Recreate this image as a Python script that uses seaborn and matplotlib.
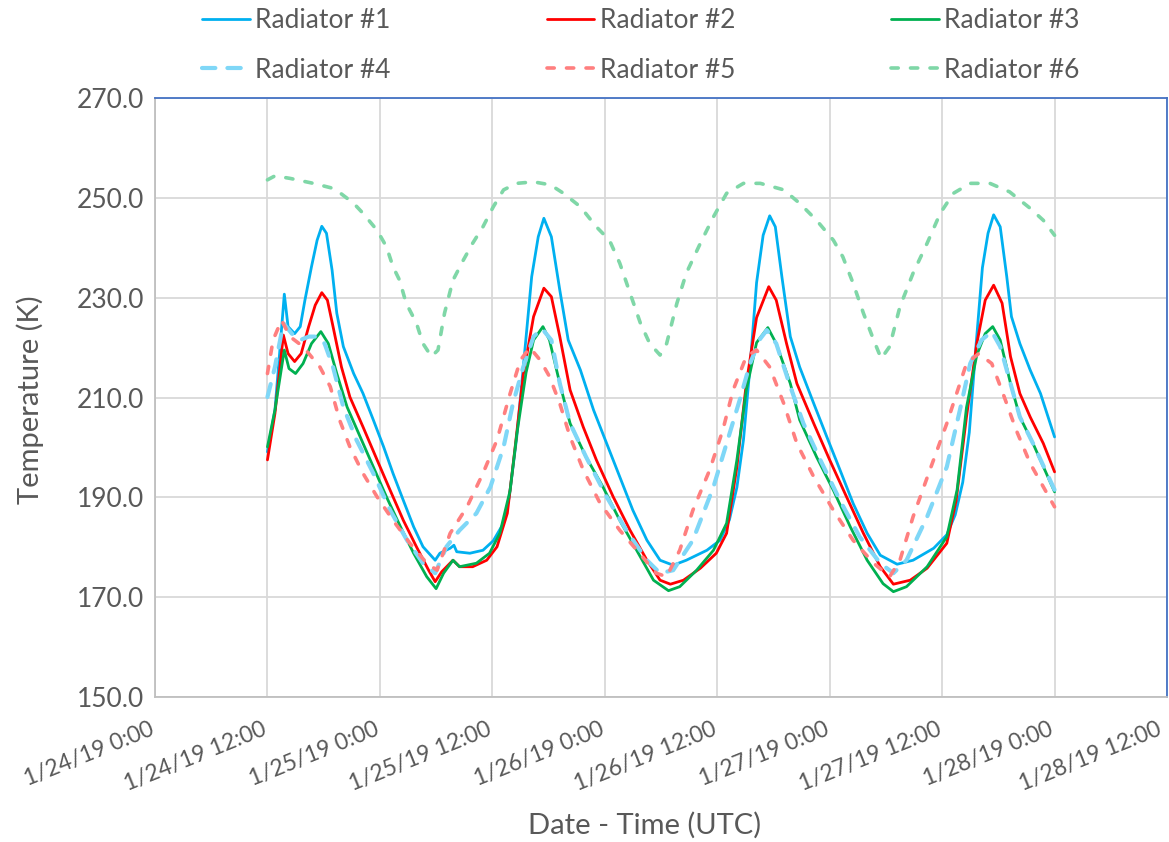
import matplotlib
matplotlib.use("Agg")
import matplotlib.pyplot as plt
import matplotlib.transforms as mtransforms
import matplotlib.dates as mdates
import seaborn as sns
import pandas as pd
import numpy as np

# ---------------- data (hours after 1/24/19 0:00, temperature K) ----------------
r1_hours = [12.0, 12.8, 13.3, 13.8, 14.2, 14.9, 15.5, 16.0, 16.7, 17.3, 17.8, 18.3, 18.9, 19.4,
            20.1, 21.2, 22.2, 23.3, 24.4, 25.4, 26.5, 27.6, 28.6, 29.9, 30.4, 31.5, 31.9, 32.2,
            33.6, 35.0, 36.1, 37.1, 37.8, 38.6, 39.3, 40.2, 40.9, 41.5, 42.3, 43.2, 44.1, 45.4,
            46.8, 48.2, 49.6, 51.0, 52.5, 53.9, 55.3, 56.7, 58.9, 60.3, 61.3, 62.1, 62.8, 63.5,
            64.2, 64.9, 65.6, 66.2, 66.9, 67.8, 68.8, 70.3, 71.7, 73.1, 74.5, 76.0, 77.4, 79.2,
            80.9, 83.1, 84.5, 85.4, 86.2, 86.9, 87.6, 88.3, 88.9, 89.5, 90.2, 90.9, 91.4, 92.3,
            93.4, 94.5, 96.0]
r1_temp = [199.1, 207.5, 218.9, 230.7, 224.2, 222.8, 224.2, 229.5, 236.2, 241.5, 244.3, 242.9, 235.5, 226.9,
           220.2, 214.8, 210.8, 205.5, 200.1, 194.8, 189.4, 184.1, 180.1, 177.4, 178.8, 179.8, 180.4, 179.1,
           178.8, 179.4, 181.3, 184.5, 190.0, 202.0, 216.0, 234.2, 242.2, 245.9, 242.2, 231.5, 221.5, 215.5,
           207.5, 200.8, 194.1, 187.4, 181.4, 177.4, 176.4, 177.4, 179.4, 181.4, 185.5, 192.0, 201.5, 216.1,
           233.0, 242.5, 246.4, 244.2, 234.2, 222.2, 216.1, 208.8, 202.1, 195.5, 188.8, 182.8, 178.4, 176.6,
           177.4, 179.8, 182.5, 186.5, 193.0, 203.0, 220.0, 236.0, 242.9, 246.6, 244.2, 234.2, 226.2, 220.8,
           215.5, 210.8, 202.1]

r2_hours = [12.0, 12.8, 13.7, 14.2, 14.9, 15.6, 16.4, 17.1, 17.8, 18.4, 19.0, 19.9, 20.8, 22.2,
            23.7, 25.1, 26.5, 27.9, 29.2, 29.9, 30.6, 31.8, 32.5, 33.9, 35.4, 36.5, 37.6, 38.4,
            39.3, 40.4, 41.5, 42.3, 43.2, 44.3, 45.7, 47.1, 48.9, 50.7, 52.5, 53.9, 55.0, 56.4,
            58.2, 59.9, 61.0, 62.1, 63.1, 64.2, 65.5, 66.3, 67.4, 68.5, 70.3, 72.0, 73.8, 75.6,
            77.4, 78.8, 80.6, 82.4, 84.5, 85.5, 86.6, 87.7, 88.6, 89.5, 90.4, 91.3, 92.3, 93.4,
            94.8, 96.0]
r2_temp = [197.5, 206.8, 222.5, 218.8, 217.2, 218.8, 224.2, 228.5, 231.0, 229.5, 224.2, 216.1, 210.1, 204.1,
           197.5, 191.4, 185.4, 180.1, 175.4, 173.1, 175.1, 177.4, 176.1, 176.1, 177.4, 180.1, 186.8, 199.5,
           214.5, 226.2, 231.9, 230.2, 222.2, 211.5, 204.1, 197.5, 190.1, 183.4, 177.4, 173.4, 172.6, 173.4,
           175.8, 178.8, 182.8, 196.1, 212.8, 226.0, 232.2, 229.5, 220.8, 212.8, 204.8, 197.5, 190.1, 182.8,
           176.1, 172.6, 173.4, 175.8, 180.8, 189.4, 206.1, 220.8, 229.5, 232.5, 228.9, 218.2, 210.8, 206.1,
           200.8, 195.1]

r3_hours = [12.0, 12.8, 13.8, 14.3, 15.0, 15.8, 16.7, 17.7, 18.5, 19.4, 20.5, 21.9, 23.3, 24.7,
            26.2, 27.6, 29.0, 30.0, 30.8, 31.8, 32.5, 34.3, 35.7, 36.8, 37.9, 38.6, 39.6, 40.4,
            41.4, 42.1, 43.2, 44.3, 46.0, 47.8, 49.6, 51.4, 53.2, 54.8, 56.0, 57.8, 59.6, 61.0,
            62.1, 63.1, 64.2, 65.4, 66.3, 67.8, 68.8, 70.6, 72.4, 74.2, 76.0, 77.7, 78.8, 80.2,
            82.4, 84.5, 85.6, 86.6, 87.7, 88.6, 89.4, 90.2, 91.3, 92.3, 93.7, 96.0]
r3_temp = [200.1, 207.5, 219.5, 215.8, 214.8, 216.8, 220.8, 223.2, 220.8, 214.8, 208.1, 202.1, 196.1, 190.1,
           184.1, 178.8, 174.1, 171.7, 174.8, 177.4, 176.1, 176.8, 178.8, 182.8, 191.4, 202.5, 215.0, 221.5,
           224.2, 221.5, 212.8, 204.8, 198.1, 192.1, 185.4, 179.4, 173.4, 171.3, 172.1, 175.4, 179.4, 184.8,
           197.5, 211.5, 221.0, 224.0, 220.8, 212.8, 205.5, 198.1, 191.4, 184.1, 177.4, 172.7, 171.1, 172.1,
           176.1, 182.1, 191.5, 208.0, 218.5, 222.8, 224.2, 221.5, 212.8, 206.1, 200.8, 191.1]

r4_hours = [12.0, 12.8, 13.7, 14.6, 15.5, 16.4, 17.3, 18.1, 19.0, 20.1, 21.5, 23.3, 25.1, 26.9,
            28.6, 29.9, 31.1, 32.5, 34.3, 35.8, 37.2, 38.2, 39.3, 40.4, 41.3, 42.3, 43.2, 44.3,
            46.0, 48.2, 50.3, 52.5, 53.9, 55.3, 57.4, 59.6, 61.0, 62.4, 63.5, 64.6, 65.3, 66.3,
            67.8, 69.2, 71.0, 73.1, 75.2, 77.4, 78.8, 80.2, 82.4, 84.5, 85.9, 87.0, 88.2, 89.3,
            90.2, 91.3, 92.3, 93.7, 96.0]
r4_temp = [210.1, 216.1, 224.9, 222.8, 221.5, 222.2, 222.2, 220.8, 216.1, 208.1, 201.5, 194.8, 187.4, 181.4,
           176.8, 174.8, 180.1, 183.4, 186.8, 192.1, 200.1, 208.8, 216.1, 222.2, 223.8, 221.5, 212.8, 204.8,
           198.1, 190.1, 183.4, 177.4, 174.8, 175.4, 181.4, 192.1, 200.8, 209.5, 216.8, 221.8, 223.5, 220.8,
           212.2, 204.8, 197.5, 189.4, 182.1, 176.8, 174.8, 177.4, 186.1, 196.1, 207.5, 216.8, 221.5, 223.2,
           220.2, 212.8, 206.1, 200.8, 191.5]

r5_hours = [12.0, 12.6, 13.5, 14.4, 15.8, 17.6, 18.7, 19.7, 20.8, 22.2, 23.7, 25.4, 27.2, 29.0,
            30.1, 31.5, 33.3, 35.0, 36.5, 37.9, 39.0, 40.0, 41.1, 42.1, 43.2, 44.3, 45.7, 47.5,
            49.6, 51.7, 53.5, 54.6, 56.0, 57.4, 59.2, 60.6, 61.7, 63.1, 64.2, 65.6, 67.1, 68.5,
            70.3, 72.4, 74.5, 76.7, 78.4, 79.5, 80.9, 82.7, 84.5, 85.9, 86.6, 87.9, 89.3, 90.5,
            91.9, 93.4, 94.8, 96.0]
r5_temp = [214.8, 221.5, 225.5, 222.2, 220.2, 216.1, 212.2, 205.5, 200.1, 194.8, 190.1, 185.4, 180.8, 176.8,
           175.4, 182.8, 188.1, 194.8, 201.5, 210.8, 217.5, 220.0, 217.5, 214.2, 208.8, 202.1, 195.5, 188.8,
           183.4, 178.8, 174.8, 174.1, 179.4, 187.4, 195.5, 203.5, 211.5, 218.2, 219.5, 216.1, 208.8, 200.8,
           194.1, 187.4, 181.4, 176.8, 174.1, 177.4, 186.1, 195.5, 204.8, 212.8, 216.8, 218.8, 216.8, 210.8,
           203.5, 196.8, 192.1, 188.1]

r6_hours = [12.0, 12.8, 14.4, 16.9, 19.0, 19.6, 21.2, 22.2, 23.7, 24.7, 25.4, 26.1, 26.8, 27.9,
            28.6, 29.5, 30.2, 30.9, 31.8, 32.9, 33.9, 35.0, 36.1, 37.2, 38.6, 40.4, 42.2, 43.6,
            45.4, 47.1, 48.5, 49.6, 50.7, 51.8, 52.8, 53.9, 54.6, 55.7, 56.7, 58.2, 59.6, 61.0,
            62.8, 64.6, 67.1, 68.8, 70.6, 72.4, 73.4, 74.5, 75.6, 76.7, 77.5, 78.4, 79.5, 80.9,
            82.4, 83.8, 85.2, 87.0, 89.1, 91.2, 93.4, 94.8, 96.0]
r6_temp = [253.6, 254.4, 253.9, 252.9, 251.9, 251.2, 248.9, 246.9, 243.5, 240.2, 236.2, 233.5, 228.9, 224.9,
           220.8, 218.2, 219.5, 226.9, 233.5, 237.5, 240.9, 244.2, 248.2, 251.6, 252.9, 253.2, 252.6, 250.9,
           248.2, 244.2, 241.5, 236.9, 230.9, 224.9, 220.8, 218.5, 220.8, 228.9, 234.9, 240.9, 246.2, 250.9,
           252.9, 252.9, 251.6, 248.9, 245.5, 241.5, 238.2, 232.9, 226.9, 221.5, 217.8, 220.2, 228.2, 234.9,
           240.9, 246.9, 250.9, 252.9, 252.9, 251.2, 247.9, 245.5, 242.5]

series_names = ["Radiator #1", "Radiator #2", "Radiator #3",
                "Radiator #4", "Radiator #5", "Radiator #6"]

xtick_labels = ["1/24/19 0:00", "1/24/19 12:00", "1/25/19 0:00", "1/25/19 12:00",
                "1/26/19 0:00", "1/26/19 12:00", "1/27/19 0:00", "1/27/19 12:00",
                "1/28/19 0:00", "1/28/19 12:00"]
ytick_values = [150, 170, 190, 210, 230, 250, 270]

# ---------------- styling ----------------
sns.set_style("white")
plt.rcParams["font.family"] = ["Lato", "DejaVu Sans"]
TXT = "#595959"

colors = ["#00B0F0", "#FF0000", "#00B050", "#7FD7F7", "#FF7F7F", "#7FD7A7"]
widths = [2.0, 2.0, 2.0, 3.0, 2.6, 2.6]
dash_patterns = [None, None, None, (3.2, 2.9), (2.0, 3.4), (2.0, 3.4)]

base = pd.Timestamp("2019-01-24 00:00")
hours_list = [r1_hours, r2_hours, r3_hours, r4_hours, r5_hours, r6_hours]
temp_list = [r1_temp, r2_temp, r3_temp, r4_temp, r5_temp, r6_temp]

fig = plt.figure(figsize=(11.69, 8.42), dpi=100)
ax = fig.add_axes([155 / 1169, 1 - 697 / 842, (1167 - 155) / 1169, (697 - 98) / 842])

handles = []
for name, hrs, tmp, c, w, d in zip(series_names, hours_list, temp_list, colors, widths, dash_patterns):
    df = pd.DataFrame({"time": base + pd.to_timedelta(hrs, unit="h"), "temp": tmp})
    n_before = len(ax.lines)
    sns.lineplot(data=df, x="time", y="temp", ax=ax, color=c, linewidth=w,
                 estimator=None, sort=False, label=name, legend=False)
    line = ax.lines[n_before]
    line.set_solid_joinstyle("round")
    if d is not None:
        line.set_dashes(d)
        line.set_dash_capstyle("round")
    handles.append(line)

# axes limits and ticks
xticks = [base + pd.Timedelta(hours=12 * i) for i in range(len(xtick_labels))]
ax.set_xlim(xticks[0], xticks[-1])
ax.set_ylim(150, 270)
ax.set_xticks(xticks)
ax.set_xticklabels([])
ax.tick_params(axis="x", length=0)

# rotated date labels placed just below each tick (offset in pixels)
xaxis_tf = ax.get_xaxis_transform()
for i, (tk, lab) in enumerate(zip(xticks, xtick_labels)):
    dx = -6 if i < len(xticks) - 1 else -11
    off = mtransforms.ScaledTranslation(dx / 100, -22 / 100, fig.dpi_scale_trans)
    ax.text(mdates.date2num(tk), 0, lab, transform=xaxis_tf + off, rotation=22,
            ha="right", va="top", rotation_mode="anchor", color=TXT, fontsize=16.5,
            clip_on=False)

ax.set_yticks(ytick_values)
ax.set_yticklabels([f"{v:.1f}" for v in ytick_values], color=TXT, fontsize=19)
ax.tick_params(axis="y", length=0, pad=8)

ax.grid(True, color="#d9d9d9", linewidth=1.3)
ax.set_axisbelow(True)
for side in ["left", "bottom"]:
    ax.spines[side].set_color("#bfbfbf")
    ax.spines[side].set_linewidth(1.3)
for side in ["top", "right"]:
    ax.spines[side].set_color("#4472C4")
    ax.spines[side].set_linewidth(1.3)

ax.set_xlabel("Date - Time (UTC)", fontsize=21, color=TXT)
ax.xaxis.set_label_coords((645 - 155) / 1012, (697 - 825) / 599)
ax.xaxis.label.set_va("center")
ax.set_ylabel("Temperature (K)", fontsize=21, color=TXT)
ax.yaxis.set_label_coords((30 - 155) / 1012, (697 - 400) / 599)
ax.yaxis.label.set_va("center")

# legend: 2 rows x 3 columns (matplotlib fills column-wise)
order = [0, 3, 1, 4, 2, 5]
leg = fig.legend([handles[i] for i in order], [series_names[i] for i in order],
                 ncol=3, loc="upper left", bbox_to_anchor=(202 / 1169, 1 - 8 / 842),
                 frameon=False, fontsize=19, handlelength=1.8, handletextpad=0.22,
                 columnspacing=5.9, labelspacing=0.93, borderpad=0, borderaxespad=0)
for t in leg.get_texts():
    t.set_color(TXT)

fig.savefig("out.png", dpi=100)
